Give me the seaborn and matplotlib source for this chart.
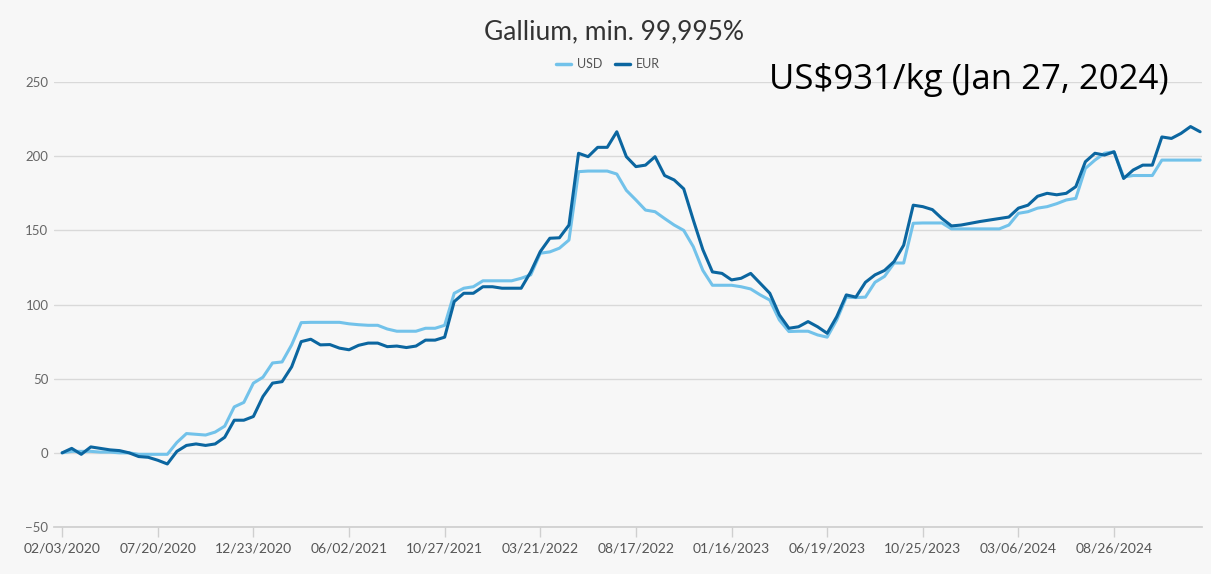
import matplotlib
matplotlib.use("Agg")
import matplotlib.pyplot as plt
import seaborn as sns
import numpy as np
import pandas as pd

usd = [0, 1, 1, 1, 0.5, 0.5, 0, 0, -1, -1,
       -1, -1, 7, 13, 12.5, 12, 14, 18, 31, 34,
       47, 51, 60.6, 61.3, 72.8, 87.8, 88, 88, 88, 88,
       87, 86.4, 86, 86, 83.5, 82, 82, 82, 84, 84,
       86, 107.6, 111, 112, 116, 116, 116, 116, 117.7, 120,
       134.6, 135.5, 138, 143.5, 189.6, 190, 190, 190, 188, 177,
       170.5, 163.7, 162.6, 158, 153.6, 150, 139, 123, 113, 113,
       113, 112, 110.5, 106.5, 103, 89.6, 81.8, 82, 82, 79.5,
       78, 89.6, 105, 104.7, 105, 115, 119, 128, 128, 154.8,
       155, 155, 155, 151, 151, 151, 151, 151, 151, 153.6,
       161.5, 162.6, 165, 166, 168, 170.5, 171.6, 191.8, 197.4, 202,
       203, 186, 187, 187, 187, 197.4, 197.4, 197.4, 197.4, 197.4]
eur = [0, 3, -1, 4, 3, 2, 1.5, 0, -2.5, -3,
       -5, -7.5, 1, 5, 6, 5, 6, 10.5, 22, 22,
       24.5, 38, 47, 48, 58, 75, 76.6, 72.8, 73, 70.6,
       69.5, 72.5, 74, 74, 71.6, 72, 71, 72, 76, 76,
       78, 102, 107.6, 107.6, 112, 112, 111, 111, 111, 122,
       135.7, 144.7, 145, 153.6, 202, 199.7, 206, 206, 216.5, 199.7,
       193, 194, 199.7, 187, 184, 178, 157, 137, 122, 121,
       116.6, 117.7, 121, 114.3, 107.6, 93, 84, 85, 88.5, 85,
       80.6, 91.8, 106.5, 105, 115, 120, 123, 129, 140, 167,
       166, 164, 158, 153, 153.6, 154.8, 156, 157, 158, 159,
       165, 167, 173, 175, 174, 175, 179.5, 196.3, 202, 200.8,
       203, 185, 190.7, 194, 194, 213, 212, 215.4, 220, 216.5]
tick_labels = ["02/03/2020", "07/20/2020", "12/23/2020", "06/02/2021",
               "10/27/2021", "03/21/2022", "08/17/2022", "01/16/2023",
               "06/19/2023", "10/25/2023", "03/06/2024", "08/26/2024"]

n = len(usd)
df = pd.DataFrame({
    "idx": list(range(n)) * 2,
    "value": usd + eur,
    "currency": ["USD"] * n + ["EUR"] * n,
})

bg = "#f7f7f7"
sns.set_theme(style="white")
plt.rcParams["font.family"] = ["Lato", "DejaVu Sans"]

fig = plt.figure(figsize=(12.11, 5.74), dpi=100, facecolor=bg)
ax = fig.add_axes([0.0446, 0.0819, 0.948, 0.7751], facecolor=bg)

sns.lineplot(data=df, x="idx", y="value", hue="currency",
             palette={"USD": "#72c2ea", "EUR": "#0b66a0"},
             linewidth=2.2, ax=ax, legend=False)

ax.set_xlim(-0.85, 119.2)
ax.set_ylim(-50, 250)
ax.set_yticks([-50, 0, 50, 100, 150, 200, 250])
ax.set_xticks(np.arange(0, 120, 10))
ax.set_xticklabels(tick_labels)
ax.grid(axis="y", color="#d9d9d9", linewidth=1)
ax.set_axisbelow(True)
for s in ["left", "right", "top"]:
    ax.spines[s].set_visible(False)
ax.spines["bottom"].set_color("#cfcfcf")
ax.tick_params(axis="x", colors="#cfcfcf", length=7, width=1, labelcolor="#555555",
               labelsize=10, pad=4, bottom=True)
ax.tick_params(axis="y", length=0, labelcolor="#666666", labelsize=9.5, pad=4)
ax.set_xlabel("")
ax.set_ylabel("")

fig.text(0.507, 0.944, "Gallium, min. 99,995%", ha="center", va="center",
         fontsize=19, color="#333333")

from matplotlib.lines import Line2D
handles = [Line2D([], [], color="#72c2ea", lw=2.5), Line2D([], [], color="#0b66a0", lw=2.5)]
fig.legend(handles, ["USD", "EUR"], loc="center", bbox_to_anchor=(0.502, 0.888),
           ncol=2, frameon=False, fontsize=9, labelcolor="#555555",
           handlelength=1.2, handletextpad=0.5, columnspacing=1.0)

fig.text(0.8, 0.86, "US$931/kg (Jan 27, 2024)", ha="center", va="center",
         fontsize=25, color="black", family=["Liberation Sans Narrow", "Open Sans", "DejaVu Sans"])

fig.savefig("out.png", dpi=100, facecolor=bg)
